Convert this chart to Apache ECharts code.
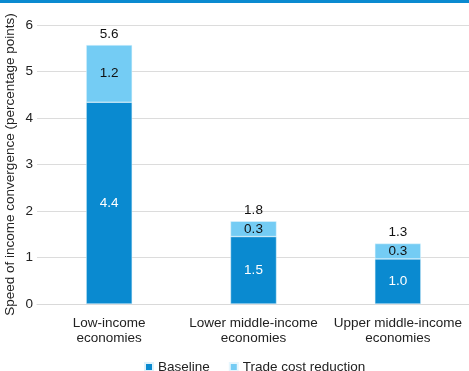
<!DOCTYPE html>
<html><head><meta charset="utf-8">
<script src="https://cdn.jsdelivr.net/npm/echarts@6/dist/echarts.min.js"></script>
<style>html,body{margin:0;padding:0;background:#fff}#c{width:469px;height:371px}</style>
</head><body><div id="c"></div>
<script>
const categories = ['Low-income\neconomies', 'Lower middle-income\neconomies', 'Upper middle-income\neconomies'];
const baseline = [4.34, 1.45, 0.97];
const tradeCost = [1.23, 0.33, 0.33];
const baselineLabels = ['4.4', '1.5', '1.0'];
const tradeLabels = ['1.2', '0.3', '0.3'];
const totalLabels = ['5.6', '1.8', '1.3'];
const yTicks = [0, 1, 2, 3, 4, 5, 6];

const FONT = 'Liberation Sans';
const FS = 13.5;
const chart = echarts.init(document.getElementById('c'));
chart.setOption({
  animation: false,
  textStyle: { fontFamily: FONT },
  graphic: [{ type: 'rect', shape: { x: 0, y: 0, width: 469, height: 3 }, style: { fill: '#0a8ad0' } }],
  grid: { left: 37, right: -1, top: 25, bottom: 67, outerBoundsMode: 'none', containLabel: false },
  legend: {
    top: 355, left: 139, itemWidth: 8, itemHeight: 8, itemGap: 19,
    icon: 'rect',
    textStyle: { fontSize: FS, color: '#222', fontFamily: FONT },
    data: ['Baseline', 'Trade cost reduction']
  },
  xAxis: {
    type: 'category', data: categories,
    axisLine: { lineStyle: { color: '#d9d9d9' } },
    axisTick: { show: false },
    axisLabel: { fontSize: FS, color: '#222', lineHeight: 15, margin: 12, interval: 0, fontFamily: FONT }
  },
  yAxis: {
    type: 'value', min: yTicks[0], max: yTicks[yTicks.length - 1], interval: 1,
    name: 'Speed of income convergence (percentage points)',
    nameLocation: 'middle', nameGap: 20, nameMoveOverlap: false,
    nameTextStyle: { fontSize: FS, color: '#222', fontFamily: FONT },
    axisLabel: { fontSize: FS, color: '#222', margin: 4, fontFamily: FONT },
    splitLine: { lineStyle: { color: '#dcdcdc' } },
    axisLine: { show: false }, axisTick: { show: false }
  },
  series: [
    {
      name: 'Baseline', type: 'bar', stack: 's', barWidth: 46, data: baseline,
      itemStyle: { color: '#0a8ad0', borderColor: '#dff2fb', borderWidth: 0.5 },
      label: { show: true, position: 'inside', color: '#fff', fontSize: FS, fontFamily: FONT,
        formatter: p => baselineLabels[p.dataIndex] }
    },
    {
      name: 'Trade cost reduction', type: 'bar', stack: 's', barWidth: 46, data: tradeCost,
      itemStyle: { color: '#74ccf4', borderColor: '#e6f6fd', borderWidth: 0.5 },
      label: { show: true, position: 'inside', color: '#111', fontSize: FS, fontFamily: FONT,
        formatter: p => tradeLabels[p.dataIndex] }
    },
    {
      name: 'Total', type: 'bar', stack: 's', barWidth: 46,
      data: baseline.map(() => 0),
      itemStyle: { color: 'transparent' },
      label: { show: true, position: 'top', color: '#111', fontSize: FS, distance: 4, fontFamily: FONT,
        formatter: p => totalLabels[p.dataIndex] },
      tooltip: { show: false }
    }
  ]
});
</script></body></html>
